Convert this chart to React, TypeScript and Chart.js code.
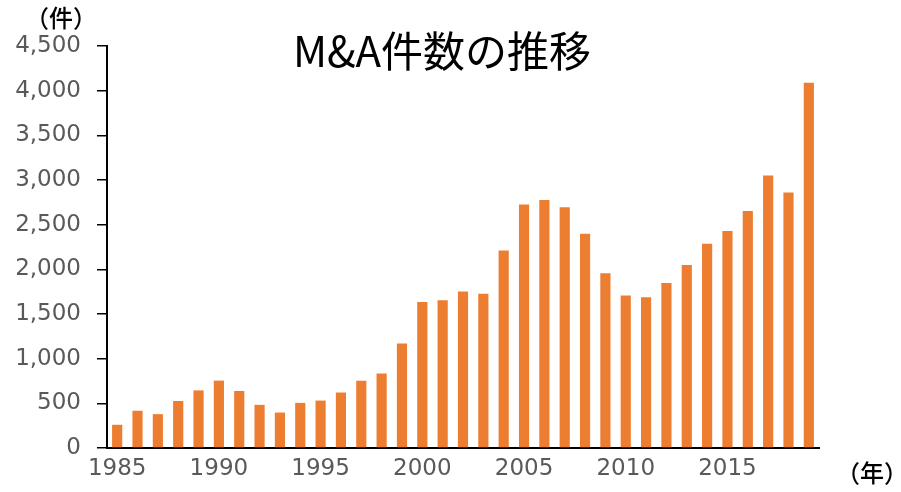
import React, { useEffect, useRef } from "react";
import { Chart, registerables } from "chart.js";

Chart.register(...registerables);

const years: string[] = [
  "1985", "1986", "1987", "1988", "1989", "1990", "1991", "1992", "1993", "1994",
  "1995", "1996", "1997", "1998", "1999", "2000", "2001", "2002", "2003", "2004",
  "2005", "2006", "2007", "2008", "2009", "2010", "2011", "2012", "2013", "2014",
  "2015", "2016", "2017", "2018", "2019",
];
const dealCounts: number[] = [
  260, 417, 379, 526, 645, 754, 638, 483, 397, 505,
  531, 621, 753, 834, 1169, 1635, 1653, 1752, 1728, 2211,
  2725, 2775, 2696, 2399, 1957, 1707, 1687, 1848, 2048, 2285,
  2428, 2652, 3050, 2860, 4088,
];
const yTickMax = 4500;
const yTickStep = 500;
const titleText = "M&A件数の推移";
const yUnitText = "（件）";
const xUnitText = "（年）";

const textPlugin = {
  id: "extraTexts",
  afterDraw(chart: any) {
    const ctx = chart.ctx;
    ctx.save();
    ctx.fillStyle = "#000000";
    ctx.textBaseline = "middle";
    ctx.textAlign = "center";
    ctx.font = "42px 'Noto Sans CJK JP', sans-serif";
    ctx.fillText(titleText, 442, 51);
    ctx.font = "500 24px 'Noto Sans CJK JP', sans-serif";
    ctx.fillText(yUnitText, 61, 18);
    ctx.fillText(xUnitText, 872, 473);
    ctx.restore();
  },
};

export default function App() {
  const canvasRef = useRef<HTMLCanvasElement | null>(null);

  useEffect(() => {
    if (!canvasRef.current) return;
    const chart = new Chart(canvasRef.current, {
      type: "bar",
      data: {
        labels: years,
        datasets: [
          {
            data: dealCounts,
            backgroundColor: "#ED7D31",
            borderWidth: 0,
            barPercentage: 0.5,
            categoryPercentage: 1.0,
          },
        ],
      },
      options: {
        animation: false,
        responsive: false,
        maintainAspectRatio: false,
        layout: { padding: { top: 46, right: 82, bottom: 0, left: 0 } },
        plugins: {
          legend: { display: false },
          tooltip: { enabled: false },
          title: { display: false },
        },
        scales: {
          x: {
            grid: { display: false, drawTicks: false },
            border: { display: true, color: "#000000", width: 2 },
            ticks: {
              autoSkip: false,
              maxRotation: 0,
              padding: 7,
              color: "#595959",
              font: { family: "'DejaVu Sans', sans-serif", size: 23 },
              callback: function (this: any, value: any) {
                const label = years[value as number];
                return Number(label) % 5 === 0 ? label : "";
              },
            },
            afterFit: (scale: any) => {
              scale.height = 44;
            },
          },
          y: {
            min: 0,
            max: yTickMax,
            grid: {
              drawOnChartArea: false,
              drawTicks: true,
              tickLength: 10,
              color: "#000000",
              lineWidth: 1.5,
            },
            border: { display: true, color: "#000000", width: 2 },
            ticks: {
              stepSize: yTickStep,
              padding: 16,
              color: "#595959",
              font: { family: "'DejaVu Sans', sans-serif", size: 23 },
              callback: (v: any) => Number(v).toLocaleString("en-US"),
            },
            afterFit: (scale: any) => {
              scale.width = 107;
            },
          },
        },
      },
      plugins: [textPlugin],
    });
    return () => chart.destroy();
  }, []);

  return (
    <div style={{ position: "fixed", left: 0, top: 0, width: 901, height: 492, background: "#ffffff" }}>
      <canvas ref={canvasRef} width={901} height={492} style={{ width: 901, height: 492 }} />
    </div>
  );
}
